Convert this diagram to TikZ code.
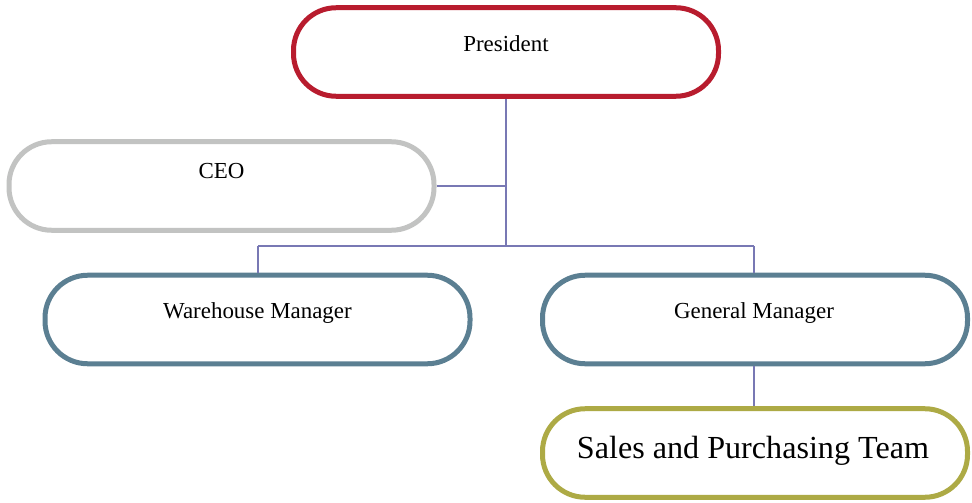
\documentclass[tikz,border=0pt]{standalone}
\usepackage{fontspec}
\setmainfont{Liberation Serif}
\definecolor{cred}{HTML}{B81C2E}
\definecolor{cgray}{HTML}{C2C3C2}
\definecolor{cslate}{HTML}{5B7F92}
\definecolor{colive}{HTML}{ADAA45}
\definecolor{cline}{HTML}{7878B4}
\begin{document}
\begin{tikzpicture}[x=0.75pt,y=-0.75pt,
  orgbox/.style={draw, line width=3.75pt, rounded corners=32pt, fill=white,
    minimum width=318.75pt, minimum height=66.4pt, inner sep=0pt},
  lbl/.style={font=\fontsize{17.2pt}{20pt}\selectfont, anchor=base, inner sep=0pt},
  biglbl/.style={font=\fontsize{24.1pt}{28pt}\selectfont, anchor=base, inner sep=0pt},
  conn/.style={draw=cline, line width=1pt}]
\useasboundingbox (0,0) rectangle (972,503);
\node[orgbox, draw=cred] (pres) at (506,52) {};
\node[orgbox, draw=cgray] (ceo) at (221.5,186) {};
\node[orgbox, draw=cslate] (wm) at (257.5,319.5) {};
\node[orgbox, draw=cslate] (gm) at (755,319.5) {};
\node[orgbox, draw=colive] (sp) at (755,453) {};
\node[lbl] (tpres) at (506,51.5) {President};
\node[lbl] (tceo) at (221.5,179) {CEO};
\node[lbl] (twm) at (257.5,318) {Warehouse Manager};
\node[lbl] (tgm) at (754,318) {General Manager};
\node[biglbl] (tsp) at (753,458) {Sales and Purchasing Team};
\coordinate (j1) at (506,246);
\coordinate (jl) at (258,246);
\coordinate (jr) at (754,246);
\path[conn] (pres.south) -- (j1);
\path[conn] (ceo.east) -- (ceo.east -| pres.south);
\path[conn] (jl) -- (jr);
\path[conn] (jl) -- (jl |- wm.north);
\path[conn] (jr) -- (jr |- gm.north);
\path[conn] (gm.south -| jr) -- (sp.north -| jr);
\end{tikzpicture}
\end{document}
